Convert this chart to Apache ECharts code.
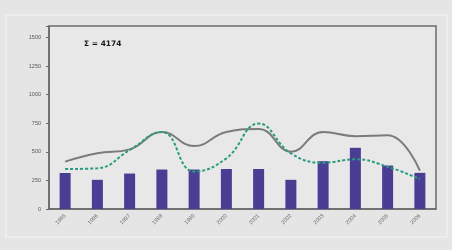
<!DOCTYPE html>
<html style="height: 100%">
<head>
    <meta charset="utf-8">
</head>
<body style="height: 100%; margin: 0; background: #e5e5e5">
    <div id="container" style="width: 452px; height: 250px"></div>
    <script src="https://cdn.jsdelivr.net/npm/echarts@6/dist/echarts.min.js"></script>
    <script type="text/javascript">
        // data
        var years = ['1995', '1996', '1997', '1998', '1999', '2000', '2001', '2002', '2003', '2004', '2005', '2006'];
        var counts = [315, 255, 310, 345, 345, 350, 350, 255, 418, 535, 380, 316];
        var trendGray = [414, 487, 521, 674, 550, 674, 700, 500, 674, 637, 645, 335];
        var trendGreen = [349, 356, 515, 674, 327, 443, 747, 487, 405, 435, 370, 261];
        var total = 4174;

        var dom = document.getElementById("container");
        var myChart = echarts.init(dom);

        var option = {
            backgroundColor: '#e5e5e5',
            animation: false,
            grid: {
                left: 49, right: 16, top: 26, bottom: 41,
                show: true,
                backgroundColor: '#e8e8e8',
                borderColor: '#6a6a6a',
                borderWidth: 1.5
            },
            graphic: [
                {
                    type: 'rect',
                    shape: { x: 6, y: 15, width: 441, height: 222 },
                    style: { fill: 'none', stroke: '#efefef', lineWidth: 1.5 }
                },
                {
                    type: 'text',
                    left: 84, top: 40,
                    style: {
                        text: 'Σ = ' + total,
                        font: 'bold 7.5px "DejaVu Sans"',
                        fill: '#1a1a1a'
                    }
                }
            ],
            xAxis: {
                type: 'category',
                data: years,
                axisLine: { lineStyle: { color: '#6a6a6a', width: 1.5 } },
                axisTick: { show: false },
                axisLabel: {
                    rotate: 45,
                    fontSize: 5.5,
                    color: '#666',
                    margin: 6,
                    interval: 0
                }
            },
            yAxis: {
                type: 'value',
                min: 0,
                max: 1600,
                interval: 250,
                splitLine: { show: false },
                axisLine: { show: true, lineStyle: { color: '#6a6a6a', width: 1.5 } },
                axisTick: { show: true, length: 3, lineStyle: { color: '#6a6a6a' } },
                axisLabel: {
                    fontSize: 5.5,
                    color: '#555',
                    margin: 8,
                    formatter: function (v) { return v > 1500 ? '' : v; }
                }
            },
            series: [
                {
                    type: 'bar',
                    data: counts,
                    barWidth: 11,
                    itemStyle: { color: '#4a3d94' }
                },
                {
                    type: 'line',
                    data: trendGray,
                    smooth: 0.45,
                    symbol: 'none',
                    lineStyle: { color: '#7b7b7b', width: 2 }
                },
                {
                    type: 'line',
                    data: trendGreen,
                    smooth: 0.45,
                    symbol: 'none',
                    lineStyle: { color: '#2a9c80', width: 2, type: [3, 2] }
                }
            ]
        };

        myChart.setOption(option);
    </script>
</body>
</html>
